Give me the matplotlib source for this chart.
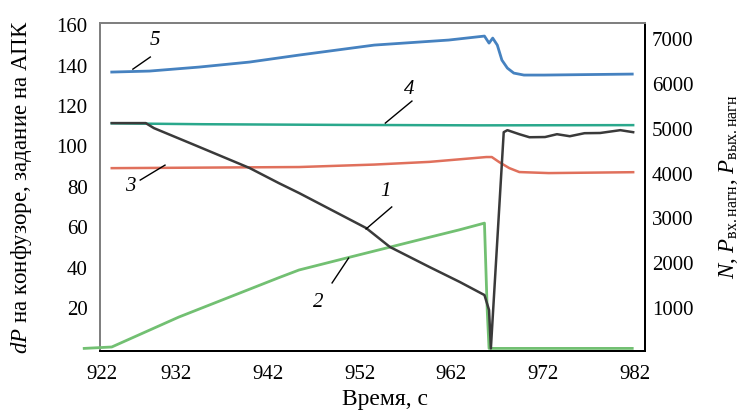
import matplotlib
matplotlib.use('Agg')
import matplotlib.pyplot as plt

# шрифты: Times-подобный с кириллицей
plt.rcParams['font.family'] = ['Liberation Serif', 'DejaVu Serif']
plt.rcParams['mathtext.fontset'] = 'custom'
plt.rcParams['mathtext.rm'] = 'Liberation Serif'
plt.rcParams['mathtext.it'] = 'Liberation Serif:italic'

# ---- данные ----
# 1 - чёрная (левая ось)
t_1 = [925.0, 928.7, 929.6, 934.0, 940.0, 943.2, 945.4, 950.0, 952.7, 955.3,
       959.6, 962.9, 965.6, 966.1, 966.3, 967.7, 968.1, 969.4, 970.5, 972.2,
       973.5, 974.9, 976.5, 978.2, 980.4, 981.8]
v_1 = [111.5, 111.5, 109.0, 100.7, 89.3, 81.8, 76.9, 66.0, 59.6, 50.2,
       40.3, 32.9, 26.4, 19.0, 0.0, 107.0, 108.0, 106.0, 104.5, 104.6,
       106.0, 105.0, 106.5, 106.6, 108.0, 107.0]

# 2 - зелёная (левая ось)
t_2 = [922.0, 925.0, 932.3, 943.2, 945.4, 950.8, 955.2, 959.6, 962.8, 965.6,
       965.9, 966.1, 981.7]
v_2 = [0.0, 0.7, 15.5, 35.0, 38.8, 45.0, 50.0, 55.0, 58.6, 62.0,
       19.0, 0.0, 0.0]

# 3 - красная (правая ось)
t_3 = [925.0, 945.4, 953.6, 959.6, 965.8, 966.4, 967.2, 968.3, 969.4, 972.6, 981.8]
v_3 = [4120, 4145, 4200, 4260, 4368, 4368, 4256, 4122, 4033, 4010, 4030]

# 4 - бирюзовая (правая ось)
t_4 = [925.0, 935.0, 950.0, 965.0, 981.8]
v_4 = [5120, 5100, 5085, 5075, 5080]

# 5 - синяя (правая ось)
t_5 = [925.0, 929.1, 934.5, 940.0, 945.4, 953.6, 961.7, 965.6, 966.1, 966.5,
       967.0, 967.5, 968.1, 968.8, 969.9, 972.1, 981.7]
v_5 = [6264, 6286, 6375, 6487, 6643, 6866, 6978, 7067, 6910, 7022,
       6866, 6531, 6352, 6241, 6197, 6197, 6219]

x_ticks = [932, 942, 952, 962, 972, 982]
left_ticks = [20, 40, 60, 80, 100, 120, 140, 160]
right_ticks = [1000, 2000, 3000, 4000, 5000, 6000, 7000]

fig = plt.figure(figsize=(7.48, 4.12), dpi=100)
ax = fig.add_axes([0.1337, 0.148, 0.7286, 0.796])
ax2 = ax.twinx()

ax.plot(t_2, v_2, color='#72c072', lw=2.0, clip_on=False, zorder=3)
ax.plot(t_1, v_1, color='#3a3a3a', lw=1.8, zorder=4)
ax2.plot(t_3, v_3, color='#e0705c', lw=1.8)
ax2.plot(t_4, v_4, color='#2aa88c', lw=1.8)
ax2.plot(t_5, v_5, color='#4682c0', lw=2.0)

ax.set_xlim(923.72, 983.09)
ax.set_ylim(-1.3, 161)
ax2.set_ylim(40, 7357)

# первая подпись оси времени стоит у самого края, как на исходнике
ax.set_xticks([923.9] + x_ticks)
ax.set_xticklabels(['922'] + [str(v) for v in x_ticks])
ax.set_yticks(left_ticks)
ax2.set_yticks(right_ticks)

ax.tick_params(axis='x', length=0, pad=10, labelsize=15)
ax.tick_params(axis='y', length=0, pad=9, labelsize=15)
ax2.tick_params(axis='y', length=0, pad=5, labelsize=15)

for a in (ax, ax2):
    a.spines['top'].set_color('#808080')
    a.spines['left'].set_color('#808080')
    a.spines['right'].set_color('black')
    a.spines['bottom'].set_color('black')
    for s in a.spines.values():
        s.set_linewidth(1.4)

ax.set_xlabel('Время, с', fontsize=17)
ax.xaxis.set_label_coords(0.523, -0.115)
ax.set_ylabel('$dP$ на конфузоре, задание на АПК', fontsize=16.5)
ax.yaxis.set_label_coords(-0.122, 0.5)
ax2.set_ylabel(r'$N$, $P_{\mathrm{вх.нагн}}$, $P_{\mathrm{вых.нагн}}$', fontsize=16.5)
ax2.yaxis.set_label_coords(1.132, 0.5)

# номера кривых с выносками
labels = [
    ('1', 954.8, 77.4, (955.5, 952.7), (70.0, 59.1)),
    ('2', 947.5, 22.9, (949.0, 950.8), (32.4, 44.7)),
    ('3', 927.0, 79.9, (928.1, 930.8), (83.3, 90.7)),
    ('4', 957.4, 128.3, (957.7, 954.8), (122.4, 111.5)),
    ('5', 929.7, 152.6, (929.2, 927.3), (144.2, 138.2)),
]
for txt, tx, ty, lx, ly in labels:
    ax.text(tx, ty, txt, fontsize=15, style='italic', ha='center', va='center', zorder=6)
    ax.plot(lx, ly, color='black', lw=1.0, zorder=6)

ax.set_zorder(ax2.get_zorder() + 1)
ax.patch.set_visible(False)

fig.savefig('out.png', dpi=100)
